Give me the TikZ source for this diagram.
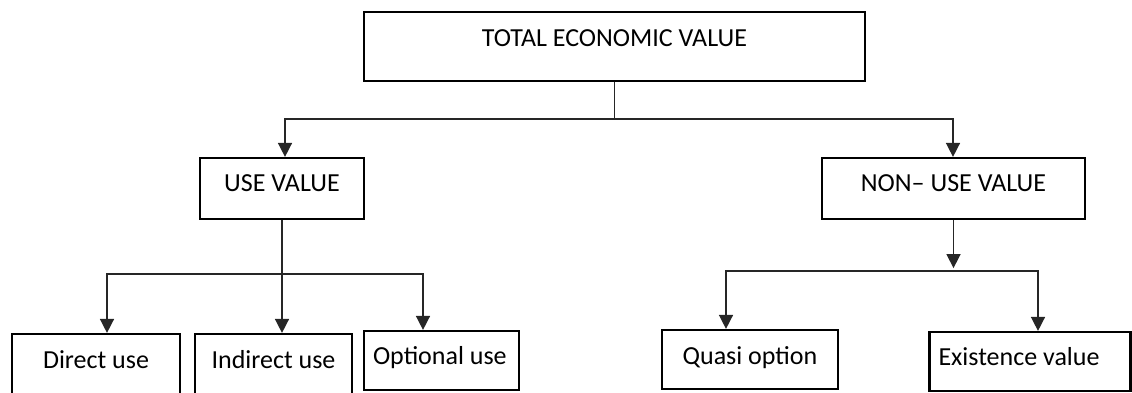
\documentclass[tikz,border=0pt]{standalone}
\usepackage{fontspec}
\setmainfont{Carlito}
\usetikzlibrary{arrows.meta}
\begin{document}
\begin{tikzpicture}[x=1pt,y=-1pt,
  box/.style={draw=black, line width=2.2pt, rectangle, inner sep=0pt, text height=16.5pt,
    font=\fontsize{26pt}{31pt}\selectfont, text=black},
  arr/.style={draw=black!85, line width=1.5pt, -{Triangle[width=14pt,length=14pt]}},
  conn/.style={draw=black!85, line width=1.5pt}]
\useasboundingbox (0,0) rectangle (1132,392);
% boxes
\node[box, minimum width=501pt, minimum height=69pt, text depth=17.5pt] (tev) at (614.5,46.5) {TOTAL ECONOMIC VALUE};
\node[box, minimum width=164pt, minimum height=61pt, text depth=11.5pt] (use) at (282,188.5) {USE VALUE};
\node[box, minimum width=263pt, minimum height=61pt, text depth=11.5pt] (nonuse) at (953.5,188.5) {NON– USE VALUE};
\node[box, minimum width=168pt, minimum height=60pt, text depth=8.5pt] (direct) at (96,364) {Direct use};
\node[box, minimum width=157pt, minimum height=60pt, text depth=8.5pt] (indirect) at (273.5,364) {Indirect use};
\node[box, minimum width=155pt, minimum height=59pt, text depth=8.5pt] (optional) at (441.5,360.5) {\makebox[137pt][l]{Optional use}};
\node[box, minimum width=176pt, minimum height=59pt, text depth=7.5pt] (quasi) at (750,359.5) {Quasi option};
\node[box, minimum width=201pt, minimum height=59pt, text depth=9.5pt] (exist) at (1030,361.5) {\makebox[183pt][l]{Existence value}};
% junctions
\coordinate (j1) at (614.5,119);
\coordinate (j2) at (282,274);
\coordinate (j3) at (953.5,271);
% connectors from top
\draw[conn] (tev.south) -- (j1);
\draw[arr] (j1) -| ([xshift=3pt]use.north);
\draw[arr] (j1) -| ([xshift=-0.5pt]nonuse.north);
% use value branches
\draw[arr] (use.south) -- (use.south |- indirect.north);
\draw[arr] (j2) -| ([xshift=11pt]direct.north);
\draw[arr] (j2) -| ([xshift=-18.5pt]optional.north);
% non-use branches
\draw[arr] (nonuse.south) -- ++(0,48);
\draw[arr] (j3) -| ([xshift=-24pt]quasi.north);
\draw[arr] (j3) -| ([xshift=8pt]exist.north);
\end{tikzpicture}
\end{document}
